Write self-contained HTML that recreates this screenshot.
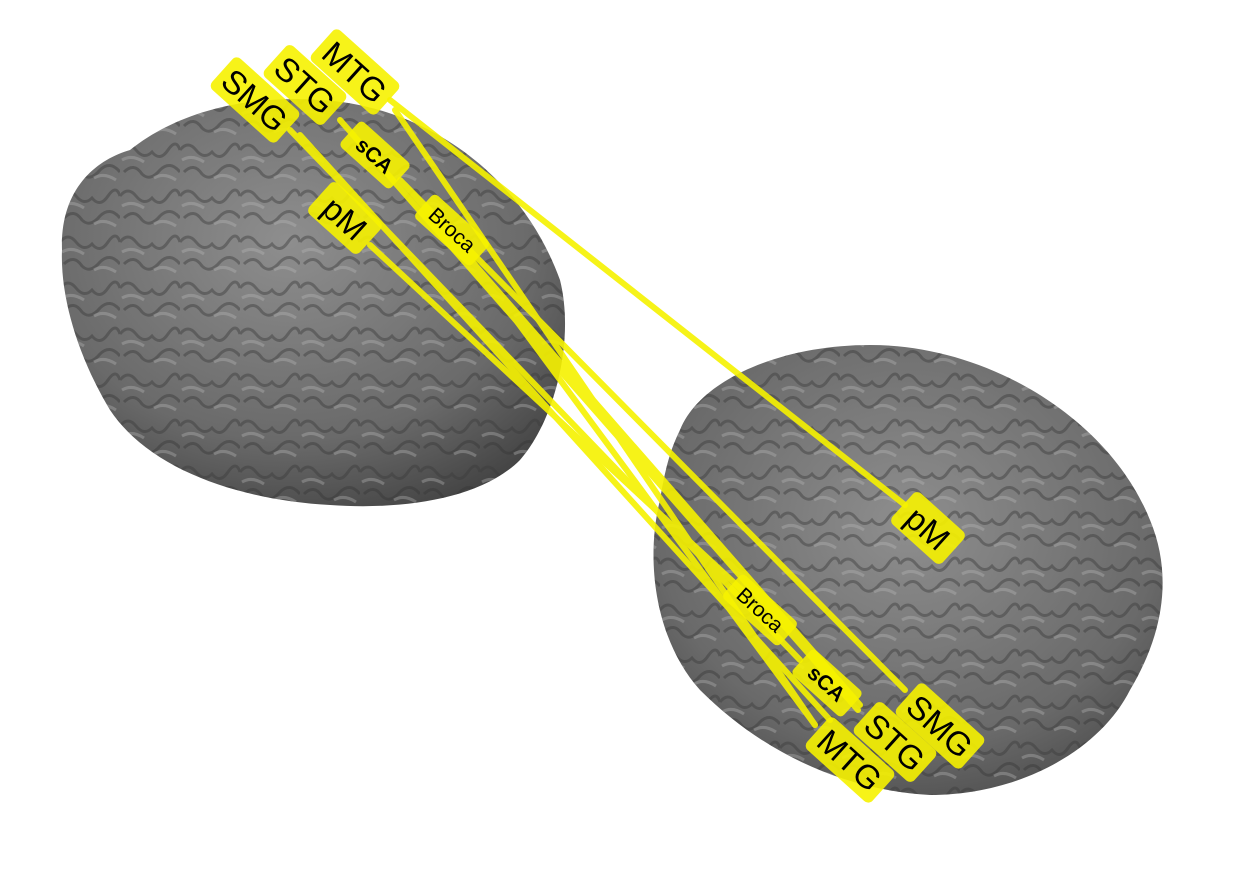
<!DOCTYPE html>
<html><head><style>
html,body{margin:0;padding:0;background:#fff;width:1259px;height:889px;overflow:hidden}
svg{display:block}
text{font-family:"Liberation Sans","DejaVu Sans",sans-serif;fill:#000}
</style></head><body>
<svg width="1259" height="889" viewBox="0 0 1259 889">
<defs>
<radialGradient id="g1" cx="0.45" cy="0.35" r="0.75">
<stop offset="0" stop-color="#8e8e8e"/><stop offset="0.65" stop-color="#6a6a6a"/><stop offset="1" stop-color="#3e3e3e"/>
</radialGradient>
<radialGradient id="g2" cx="0.5" cy="0.4" r="0.75">
<stop offset="0" stop-color="#8e8e8e"/><stop offset="0.65" stop-color="#6a6a6a"/><stop offset="1" stop-color="#3e3e3e"/>
</radialGradient>
<pattern id="gy" width="60" height="46" patternUnits="userSpaceOnUse">
<path d="M0 12 Q8 2 16 12 T32 14 Q40 24 48 12 T60 12" stroke="#3a3a3a" stroke-width="3" fill="none" opacity="0.55"/>
<path d="M4 34 Q14 24 22 36 Q30 44 40 32 Q50 22 60 34" stroke="#333" stroke-width="3" fill="none" opacity="0.5"/>
<path d="M2 22 Q12 16 24 24 M34 40 Q44 34 56 42" stroke="#b8b8b8" stroke-width="3" fill="none" opacity="0.45"/>
</pattern>
</defs>
<g>
<path id="lb" d="M62 250 C60 190 95 160 130 150 C180 110 250 95 320 100 C420 105 520 170 560 280 C575 340 555 420 520 460 C480 500 400 510 330 505 C240 500 150 470 110 410 C80 360 60 300 62 250Z" fill="url(#g1)"/>
<path d="M62 250 C60 190 95 160 130 150 C180 110 250 95 320 100 C420 105 520 170 560 280 C575 340 555 420 520 460 C480 500 400 510 330 505 C240 500 150 470 110 410 C80 360 60 300 62 250Z" fill="url(#gy)" opacity="0.8"/>
</g>
<g>
<path d="M680 430 C700 380 780 345 870 345 C990 345 1110 420 1150 520 C1175 580 1160 640 1130 690 C1100 750 1020 795 930 795 C840 790 760 750 700 690 C655 640 645 560 660 500 C665 470 670 450 680 430Z" fill="url(#g2)"/>
<path d="M680 430 C700 380 780 345 870 345 C990 345 1110 420 1150 520 C1175 580 1160 640 1130 690 C1100 750 1020 795 930 795 C840 790 760 750 700 690 C655 640 645 560 660 500 C665 470 670 450 680 430Z" fill="url(#gy)" opacity="0.8"/>
</g>
<g stroke="#f6f200" stroke-width="6" stroke-linecap="round" opacity="0.9">
<line x1="390" y1="100" x2="905" y2="505"/>
<line x1="395" y1="110" x2="815" y2="725"/>
<line x1="340" y1="120" x2="858" y2="710"/>
<line x1="290" y1="130" x2="800" y2="660"/>
<line x1="400" y1="180" x2="905" y2="690"/>
<line x1="370" y1="245" x2="742" y2="590"/>
<line x1="470" y1="258" x2="815" y2="725"/>
<line x1="300" y1="135" x2="830" y2="720"/>
<line x1="405" y1="185" x2="860" y2="705"/>
</g>
<g font-size="33">
<g transform="translate(255,100) rotate(42)"><rect x="-44" y="-21" width="88" height="42" rx="6" fill="#f6f200" opacity="0.9"/><text text-anchor="middle" y="12">SMG</text></g>
<g transform="translate(305,85) rotate(42)"><rect x="-40" y="-21" width="80" height="42" rx="6" fill="#f6f200" opacity="0.9"/><text text-anchor="middle" y="12">STG</text></g>
<g transform="translate(355,72) rotate(42)"><rect x="-44" y="-21" width="88" height="42" rx="6" fill="#f6f200" opacity="0.9"/><text text-anchor="middle" y="12">MTG</text></g>
<g transform="translate(345,218) rotate(42)"><rect x="-34" y="-21" width="68" height="42" rx="6" fill="#f6f200" opacity="0.9"/><text text-anchor="middle" y="12">pM</text></g>
<g transform="translate(928,528) rotate(42)"><rect x="-34" y="-21" width="68" height="42" rx="6" fill="#f6f200" opacity="0.9"/><text text-anchor="middle" y="12">pM</text></g>
<g transform="translate(940,726) rotate(42)"><rect x="-44" y="-21" width="88" height="42" rx="6" fill="#f6f200" opacity="0.9"/><text text-anchor="middle" y="12">SMG</text></g>
<g transform="translate(895,742) rotate(42)"><rect x="-40" y="-21" width="80" height="42" rx="6" fill="#f6f200" opacity="0.9"/><text text-anchor="middle" y="12">STG</text></g>
<g transform="translate(850,760) rotate(42)"><rect x="-44" y="-21" width="88" height="42" rx="6" fill="#f6f200" opacity="0.9"/><text text-anchor="middle" y="12">MTG</text></g>
</g>
<g font-size="21">
<g transform="translate(375,155) rotate(42)"><rect x="-34" y="-17" width="68" height="34" rx="5" fill="#f6f200" opacity="0.9"/><text text-anchor="middle" y="8" font-weight="bold">sCA</text></g>
<g transform="translate(827,683) rotate(42)"><rect x="-34" y="-17" width="68" height="34" rx="5" fill="#f6f200" opacity="0.9"/><text text-anchor="middle" y="8" font-weight="bold">sCA</text></g>
<g transform="translate(452,230) rotate(42)"><rect x="-38" y="-16" width="76" height="32" rx="5" fill="#f6f200" opacity="0.9"/><text text-anchor="middle" y="7">Broca</text></g>
<g transform="translate(760,610) rotate(42)"><rect x="-38" y="-16" width="76" height="32" rx="5" fill="#f6f200" opacity="0.9"/><text text-anchor="middle" y="7">Broca</text></g>
</g>
</svg>
</body></html>
